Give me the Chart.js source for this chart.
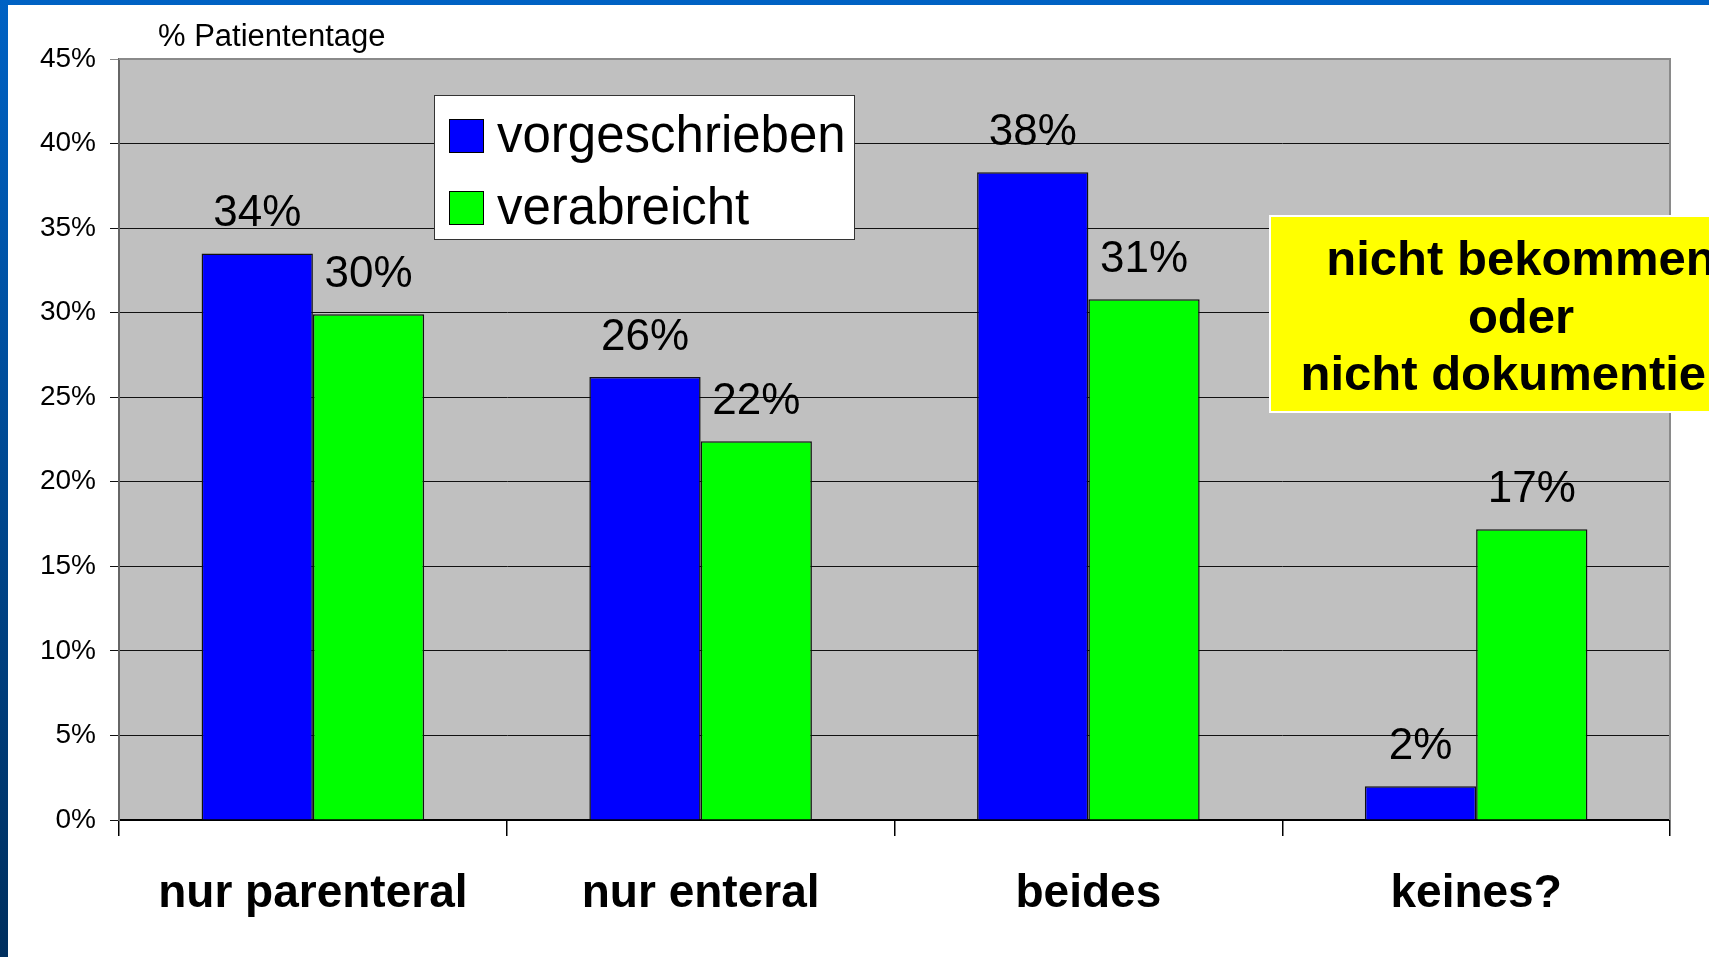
<!DOCTYPE html>
<html>
<head>
<meta charset="utf-8">
<script src="https://cdn.jsdelivr.net/npm/chart.js@4.4.1/dist/chart.umd.min.js"></script>
<style>
  html, body { margin: 0; padding: 0; }
  body { width: 1709px; height: 957px; overflow: hidden; background: linear-gradient(#0062c4, #002f5e); position: relative; }
  #wrap { position: absolute; left: 8px; top: 5px; width: 1701px; height: 952px; background: #fff; }
  canvas { display: block; }
</style>
</head>
<body>
<div id="wrap"><canvas id="chart" width="1701" height="952"></canvas></div>
<script>
// Werte (% Patiententage)
const categories = ['nur parenteral', 'nur enteral', 'beides', 'keines?'];
const vorgeschrieben = [33.5, 26.2, 38.3, 2.0];
const verabreicht = [29.9, 22.4, 30.8, 17.2];
const yTicksMax = 45;
const yStep = 5;
const axisTitle = '% Patiententage';
const noteLines = ['nicht bekommen', 'oder', 'nicht dokumentiert'];

const FONT = '"Liberation Sans", Arial, sans-serif';

// grey plot area + right border
const plotBg = {
  id: 'plotBg',
  beforeDraw(chart){
    const {ctx, chartArea:a} = chart;
    ctx.save();
    ctx.fillStyle = '#c0c0c0';
    ctx.fillRect(a.left, a.top, a.right - a.left, a.bottom - a.top);
    ctx.restore();
  },
  beforeDatasetsDraw(chart){
    const {ctx, chartArea:a} = chart;
    ctx.save();
    ctx.strokeStyle = '#8a8a8a';
    ctx.lineWidth = 2;
    ctx.beginPath();
    ctx.moveTo(a.left, a.top);
    ctx.lineTo(a.right, a.top);
    ctx.lineTo(a.right, a.bottom);
    ctx.stroke();
    ctx.restore();
  }
};

// value labels above bars
const valueLabels = {
  id: 'valueLabels',
  afterDatasetsDraw(chart){
    const ctx = chart.ctx;
    ctx.save();
    ctx.font = '44px ' + FONT;
    ctx.fillStyle = '#000';
    ctx.textAlign = 'center';
    ctx.textBaseline = 'alphabetic';
    chart.data.datasets.forEach((ds, i) => {
      chart.getDatasetMeta(i).data.forEach((bar, j) => {
        ctx.fillText(Math.round(ds.data[j]) + '%', bar.x, bar.y - 27);
      });
    });
    ctx.restore();
  }
};

// legend box, axis title and yellow note
const extras = {
  id: 'extras',
  afterDraw(chart){
    const ctx = chart.ctx;
    ctx.save();

    // axis title
    ctx.font = '31px ' + FONT;
    ctx.fillStyle = '#000';
    ctx.textAlign = 'left';
    ctx.textBaseline = 'alphabetic';
    ctx.fillText(axisTitle, 150, 41);

    // legend
    ctx.fillStyle = '#fff';
    ctx.fillRect(426, 90, 420, 144);
    ctx.strokeStyle = '#333';
    ctx.lineWidth = 1;
    ctx.strokeRect(426.5, 90.5, 420, 144);
    ctx.font = '51px ' + FONT;
    chart.data.datasets.forEach((ds, i) => {
      const y = 114 + i * 72;
      ctx.fillStyle = ds.backgroundColor;
      ctx.fillRect(441, y, 34, 33);
      ctx.strokeStyle = '#000';
      ctx.strokeRect(441.5, y + 0.5, 34, 33);
      ctx.fillStyle = '#000';
      ctx.fillText(ds.label, 489, y + 33);
    });

    // yellow note box (runs past the right edge)
    ctx.fillStyle = '#fff';
    ctx.fillRect(1261, 210, 520, 198);
    ctx.fillStyle = '#ffff00';
    ctx.fillRect(1263, 212, 520, 194);
    ctx.fillStyle = '#000';
    ctx.font = 'bold 49px ' + FONT;
    ctx.textAlign = 'center';
    noteLines.forEach((t, i) => ctx.fillText(t, 1513, 270 + i * 57.5));

    ctx.restore();
  }
};

new Chart(document.getElementById('chart'), {
  type: 'bar',
  data: {
    labels: categories,
    datasets: [
      { label: 'vorgeschrieben', data: vorgeschrieben, backgroundColor: '#0000ff', borderColor: '#111', borderWidth: 1.5, borderSkipped: 'bottom' },
      { label: 'verabreicht', data: verabreicht, backgroundColor: '#00ff00', borderColor: '#111', borderWidth: 1.5, borderSkipped: 'bottom' }
    ]
  },
  options: {
    responsive: false,
    animation: false,
    events: [],
    layout: { padding: { top: 54, right: 39, left: 0, bottom: 0 } },
    datasets: { bar: { categoryPercentage: 0.574, barPercentage: 1.0 } },
    plugins: { legend: { display: false }, tooltip: { enabled: false }, title: { display: false } },
    scales: {
      x: {
        afterFit(s){ s.height = 137; },
        grid: { offset: true, drawOnChartArea: false, drawTicks: true, tickLength: 16, color: '#000', lineWidth: 1.5 },
        border: { display: true, color: '#000', width: 2 },
        ticks: { color: '#000', font: { family: FONT, size: 46, weight: 'bold' }, padding: 31, maxRotation: 0, autoSkip: false }
      },
      y: {
        min: 0,
        max: yTicksMax,
        afterFit(s){ s.width = 111; },
        grid: {
          color: (c) => c.tick && c.tick.value === yTicksMax ? '#8a8a8a' : '#111',
          lineWidth: 1,
          tickLength: 9
        },
        border: { display: true, color: '#666', width: 2 },
        ticks: {
          stepSize: yStep,
          color: '#000',
          padding: 14,
          font: { family: FONT, size: 28 },
          callback: (v) => v + '%'
        }
      }
    }
  },
  plugins: [plotBg, valueLabels, extras]
});
</script>
</body>
</html>
